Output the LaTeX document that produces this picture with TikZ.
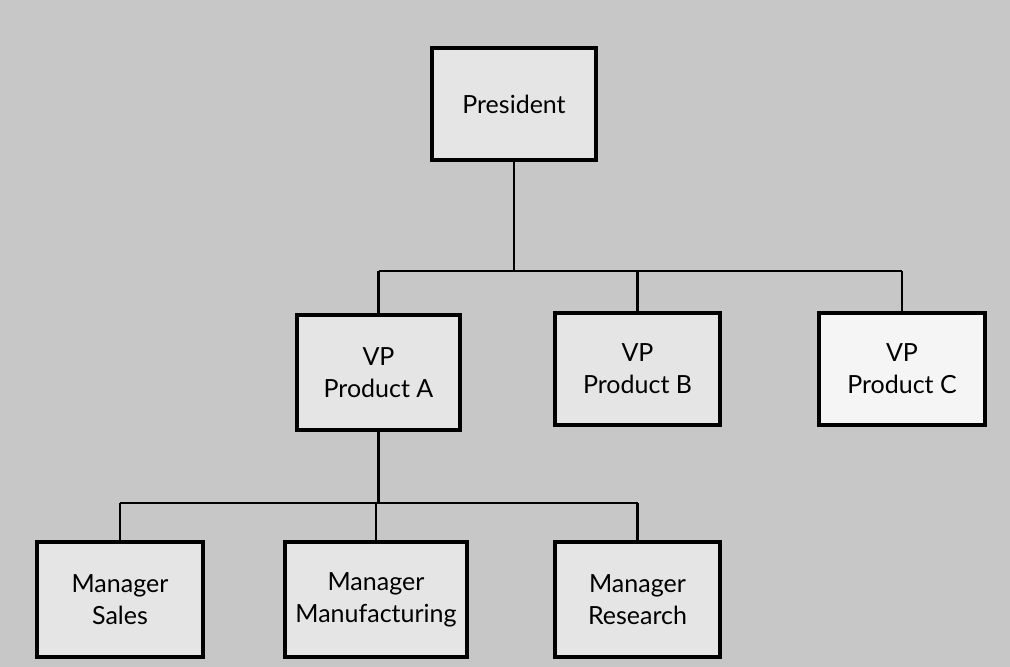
\documentclass[tikz,border=0pt]{standalone}
\usepackage{fontspec}
\setmainfont{Lato}
\begin{document}
\begin{tikzpicture}[x=1pt,y=-1pt,
  orgbox/.style={draw=black, line width=3.5pt, fill=black!10, align=center,
    font=\fontsize{25}{32}\selectfont, inner sep=0pt},
  link/.style={draw=black, line width=2.6pt}]
  % page with a grey scanned-paper tone
  \fill[black!22] (0,0) rectangle (1010,667);
  \useasboundingbox (0,0) rectangle (1010,667);

  % top level
  \node[orgbox, minimum width=164pt, minimum height=112pt] (pres) at (514,104) {President};

  % vice presidents
  \node[orgbox, minimum width=163pt, minimum height=115pt] (vpa) at (378.5,372.5) {VP\\Product A};
  \node[orgbox, minimum width=165pt, minimum height=112pt] (vpb) at (637.5,369) {VP\\Product B};
  \node[orgbox, minimum width=166pt, minimum height=112pt, fill=black!4] (vpc) at (902,369) {VP\\Product C};

  % managers under VP Product A
  \node[orgbox, minimum width=166pt, minimum height=115pt] (msales) at (120,599.5) {Manager\\Sales};
  \node[orgbox, minimum width=182pt, minimum height=115pt] (mmanu) at (376,599.5) {Manager\\Manufacturing};
  \node[orgbox, minimum width=165pt, minimum height=115pt] (mres) at (637.5,599.5) {Manager\\Research};

  % bus lines
  \coordinate (busvp) at (514,271);
  \coordinate (busmgr) at (378,503);

  % president to vice presidents
  \draw[link] (pres.south) -- (pres.south |- busvp);
  \draw[link] (vpa.north |- busvp) -- (vpc.north |- busvp);
  \draw[link] (vpa.north) -- (vpa.north |- busvp);
  \draw[link] (vpb.north) -- (vpb.north |- busvp);
  \draw[link] (vpc.north) -- (vpc.north |- busvp);

  % VP Product A to managers
  \draw[link] (vpa.south) -- (vpa.south |- busmgr);
  \draw[link] (msales.north |- busmgr) -- (mres.north |- busmgr);
  \draw[link] (msales.north) -- (msales.north |- busmgr);
  \draw[link] (mmanu.north) -- (mmanu.north |- busmgr);
  \draw[link] (mres.north) -- (mres.north |- busmgr);
\end{tikzpicture}
\end{document}
